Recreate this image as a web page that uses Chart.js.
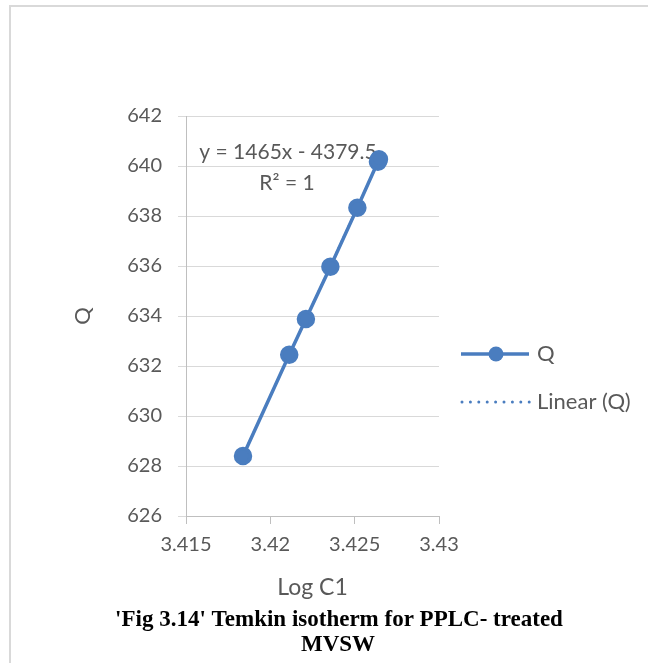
<!DOCTYPE html>
<html lang="en">
<head>
<meta charset="UTF-8">
<title>Temkin isotherm</title>
<script src="https://cdn.jsdelivr.net/npm/chart.js@4"></script>
<style>
  html, body { margin: 0; padding: 0; background: #fff; }
</style>
</head>
<body>
<canvas id="myChart" width="648" height="663"></canvas>
<script>

    // Données
    let logC1 = [3.41838, 3.42112, 3.42211, 3.42356, 3.42516, 3.42638, 3.42644];
    let valeursQ = [628.40, 632.45, 633.88, 635.97, 638.33, 640.17, 640.27];

    // Droite de tendance affichée (y = 1465x - 4379.5)
    let penteTendance = 1465;
    let origineTendance = -4379.5;

    let bornesX = [3.415, 3.43];
    let bornesY = [626, 642];
    let pasX = 0.005;
    let pasY = 2;

    let titreX = 'Log C1';
    let titreY = 'Q';
    let legende = ['Q', 'Linear (Q)'];
    let equation = ['y = 1465x - 4379.5', 'R\u00B2 = 1'];
    let legendeFigure = ["'Fig 3.14' Temkin isotherm for PPLC- treated", 'MVSW'];

    let bleu = '#4a7dbf';
    let gris = '#595959';
    let police = 'Lato';

    let points = logC1.map((x, i) => ({ x: x, y: valeursQ[i] }));
    let xDebut = Math.min(...logC1);
    let xFin = Math.max(...logC1);
    let tendance = [xDebut, xFin].map(x => ({ x: x, y: penteTendance * x + origineTendance }));

    let decor = {
        id: 'decor',
        beforeDraw: (chart) => {
            let ctx = chart.ctx;
            ctx.save();
            ctx.strokeStyle = '#d9d9d9';
            ctx.lineWidth = 2;
            ctx.strokeRect(10, 6, 800, 800);
            ctx.restore();
        },
        beforeDatasetsDraw: (chart) => {
            let ctx = chart.ctx;
            let zone = chart.chartArea;
            ctx.save();
            ctx.fillStyle = gris;
            ctx.font = '21px ' + police;
            ctx.textAlign = 'center';
            ctx.textBaseline = 'middle';
            ctx.fillText(equation[0], zone.left + 102, zone.top + 36);
            ctx.fillText(equation[1], zone.left + 101, zone.top + 67);
            ctx.restore();
        },
        afterDraw: (chart) => {
            let ctx = chart.ctx;
            let zone = chart.chartArea;
            ctx.save();

            // Légende
            let lx = zone.right + 22;
            let ly1 = 354, ly2 = 402;
            ctx.strokeStyle = bleu;
            ctx.lineWidth = 3.5;
            ctx.beginPath();
            ctx.moveTo(lx, ly1);
            ctx.lineTo(lx + 68, ly1);
            ctx.stroke();
            ctx.fillStyle = bleu;
            ctx.beginPath();
            ctx.arc(lx + 35, ly1, 7.5, 0, Math.PI * 2);
            ctx.fill();

            ctx.lineWidth = 3;
            ctx.lineCap = 'round';
            ctx.setLineDash([0, 8.4]);
            ctx.beginPath();
            ctx.moveTo(lx + 1, ly2);
            ctx.lineTo(lx + 69, ly2);
            ctx.stroke();
            ctx.setLineDash([]);

            ctx.fillStyle = gris;
            ctx.font = '22px ' + police;
            ctx.textAlign = 'left';
            ctx.textBaseline = 'middle';
            ctx.fillText(legende[0], lx + 76, ly1);
            ctx.fillText(legende[1], lx + 76, ly2);

            // Légende de la figure
            ctx.fillStyle = '#000';
            ctx.font = 'bold 23px "Liberation Serif"';
            ctx.textAlign = 'center';
            ctx.textBaseline = 'alphabetic';
            ctx.fillText(legendeFigure[0], 339, 626);
            ctx.fillText(legendeFigure[1], 338, 651);
            ctx.restore();
        }
    };

    let ctx = document.getElementById('myChart').getContext('2d');
    let chart = new Chart(ctx, {
        type: 'scatter',
        data: {
            datasets: [
                {
                    label: legende[0],
                    data: points,
                    showLine: true,
                    borderColor: bleu,
                    backgroundColor: bleu,
                    borderWidth: 3.5,
                    pointRadius: 7.5,
                    pointHoverRadius: 7.5,
                    order: 1
                },
                {
                    label: legende[1],
                    data: tendance,
                    showLine: true,
                    borderColor: bleu,
                    borderWidth: 2,
                    borderDash: [2, 4],
                    pointRadius: 0,
                    order: 2
                }
            ]
        },
        options: {
            responsive: false,
            animation: false,
            layout: { padding: { left: 66, top: 116, right: 209, bottom: 58 } },
            plugins: {
                legend: { display: false },
                tooltip: { enabled: false }
            },
            scales: {
                x: {
                    type: 'linear',
                    min: bornesX[0],
                    max: bornesX[1],
                    ticks: {
                        stepSize: pasX,
                        color: gris,
                        padding: 9,
                        font: { family: police, size: 20 },
                        callback: v => String(+v.toFixed(3))
                    },
                    grid: { drawOnChartArea: false, drawTicks: true, tickLength: 8, color: '#bfbfbf' },
                    border: { color: '#bfbfbf' },
                    title: { display: true, text: titreX, color: gris, font: { family: police, size: 23 } },
                    afterFit: s => { s.height = 89; }
                },
                y: {
                    min: bornesY[0],
                    max: bornesY[1],
                    ticks: {
                        stepSize: pasY,
                        color: gris,
                        padding: 16,
                        font: { family: police, size: 20 }
                    },
                    grid: { color: '#d9d9d9', tickLength: 8 },
                    border: { color: '#bfbfbf' },
                    title: { display: true, text: titreY, color: gris, font: { family: police, size: 22 } },
                    afterFit: s => { s.width = 120; }
                }
            }
        },
        plugins: [decor]
    });

</script>
</body>
</html>
